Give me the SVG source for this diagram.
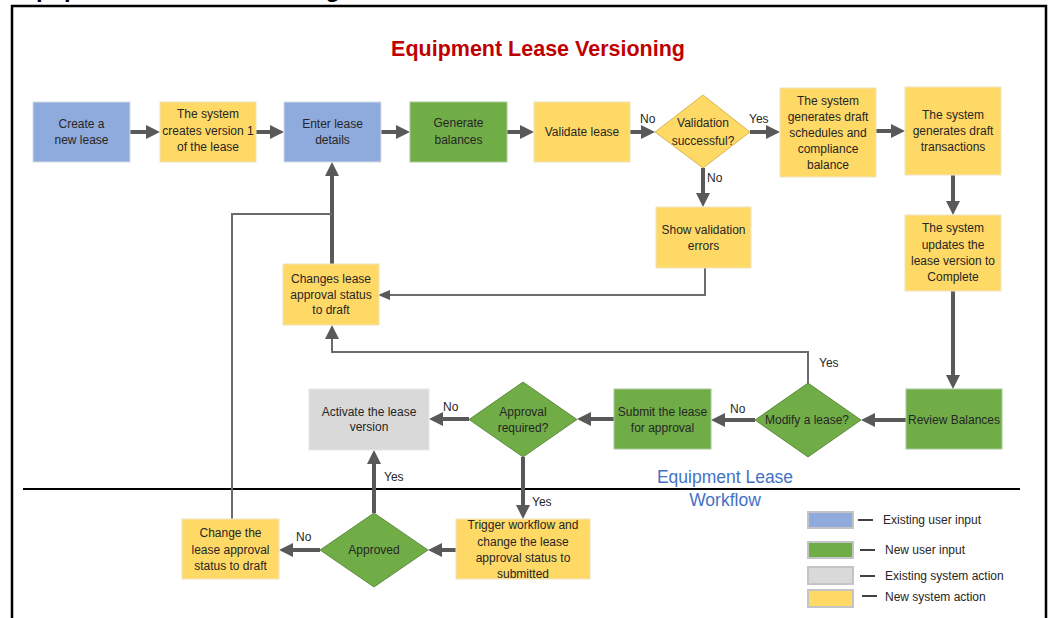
<svg xmlns="http://www.w3.org/2000/svg" width="1049" height="618" viewBox="0 0 1049 618">
  <style>
    text { font-family: "Liberation Sans", Arial, sans-serif; font-size: 12px; fill: #262626; }
    .c { text-anchor: middle; }
    .title { font-size: 21.5px; font-weight: bold; fill: #C00000; text-anchor: middle; }
    .lane { font-size: 17.5px; fill: #4472C4; text-anchor: middle; }
    .blue { fill: #8FAADC; stroke: #D6DCE5; stroke-width: 1; }
    .yellow { fill: #FFD966; stroke: #EDE3C0; stroke-width: 1; }
    .green { fill: #70AD47; stroke: #A9C99A; stroke-width: 1; }
    .gray { fill: #D9D9D9; stroke: #E6E6E6; stroke-width: 1; }
    .dy { fill: #FFD966; stroke: #C9A93A; stroke-width: 0.8; }
    .dg { fill: #70AD47; stroke: #4E7D30; stroke-width: 0.8; }
    .thick { fill: none; stroke: #595959; stroke-width: 4; }
    .thin { fill: none; stroke: #6B6B6B; stroke-width: 2; }
    .sw { stroke: #C4C4C4; stroke-width: 2; }
    .dash { stroke: #000; stroke-width: 1.5; }
  </style>
  <defs>
    <marker id="ah" markerUnits="userSpaceOnUse" markerWidth="14" markerHeight="14" refX="6" refY="7" orient="auto">
      <path d="M0,0 L14,7 L0,14 z" fill="#595959"/>
    </marker>
    <marker id="ahs" markerUnits="userSpaceOnUse" markerWidth="12" markerHeight="10" refX="4" refY="5" orient="auto">
      <path d="M0,0 L12,5 L0,10 z" fill="#595959"/>
    </marker>
  </defs>

  <rect width="1049" height="618" fill="#FFFFFF"/>

  <!-- heading above the frame, cut by the top edge -->
  <text x="12" y="-3" style="font-size:24px;font-weight:bold;fill:#000">Equipment Lease Versioning</text>

  <!-- outer frame -->
  <path d="M12,640 V6 H1046 V640" fill="none" stroke="#000" stroke-width="2.5"/>
  <!-- lane divider -->
  <line x1="23" y1="489" x2="1020" y2="489" stroke="#000" stroke-width="2"/>

  <text class="title" x="538" y="56">Equipment Lease Versioning</text>
  <text class="lane" x="725" y="483">Equipment Lease</text>
  <text class="lane" x="725" y="506">Workflow</text>

  <!-- connectors -->
  <g id="connectors">
    <path class="thick" d="M130,132 H152" marker-end="url(#ah)"/>
    <path class="thick" d="M256,132 H276" marker-end="url(#ah)"/>
    <path class="thick" d="M381,132 H402" marker-end="url(#ah)"/>
    <path class="thick" d="M507,132 H526" marker-end="url(#ah)"/>
    <path class="thick" d="M630,132 H647" marker-end="url(#ah)"/>
    <path class="thick" d="M750,132 H772" marker-end="url(#ah)"/>
    <path class="thick" d="M876,131 H897" marker-end="url(#ah)"/>
    <path class="thick" d="M953,175 V207" marker-end="url(#ah)"/>
    <path class="thick" d="M953,291 V381" marker-end="url(#ah)"/>
    <path class="thick" d="M906,420 H869" marker-end="url(#ah)"/>
    <path class="thick" d="M755,420 H719" marker-end="url(#ah)"/>
    <path class="thick" d="M614,419 H585" marker-end="url(#ah)"/>
    <path class="thick" d="M469,419 H437" marker-end="url(#ah)"/>
    <path class="thick" d="M523,457 V511" marker-end="url(#ah)"/>
    <path class="thick" d="M456,550 H436" marker-end="url(#ah)"/>
    <path class="thick" d="M320,550 H287" marker-end="url(#ah)"/>
    <path class="thick" d="M374,513 V458" marker-end="url(#ah)"/>
    <path class="thick" d="M703,168 V199" marker-end="url(#ah)"/>
    <path class="thick" d="M332,264 V170" marker-end="url(#ah)"/>
    <path class="thin" d="M705,268 V295 H386" marker-end="url(#ahs)"/>
    <path class="thin" d="M808,383 V352 H332 V333" marker-end="url(#ah)"/>
    <path class="thin" d="M232,519 V214 H332"/>

    <text x="640" y="123">No</text>
    <text x="749" y="123">Yes</text>
    <text x="707" y="182">No</text>
    <text x="819" y="367">Yes</text>
    <text x="730" y="413">No</text>
    <text x="443" y="411">No</text>
    <text x="384" y="481">Yes</text>
    <text x="532" y="506">Yes</text>
    <text x="296" y="541">No</text>
  </g>

  <!-- top row -->
  <g id="create-lease">
    <rect class="blue" x="33" y="102" width="97" height="60"/>
    <text class="c" x="81.5" y="128">Create a</text>
    <text class="c" x="81.5" y="144">new lease</text>
  </g>
  <g id="create-version">
    <rect class="yellow" x="160" y="102" width="96" height="60"/>
    <text class="c" x="208" y="118">The system</text>
    <text class="c" x="208" y="135">creates version 1</text>
    <text class="c" x="208" y="151">of the lease</text>
  </g>
  <g id="enter-details">
    <rect class="blue" x="284" y="102" width="97" height="60"/>
    <text class="c" x="332.5" y="128">Enter lease</text>
    <text class="c" x="332.5" y="144">details</text>
  </g>
  <g id="generate-balances">
    <rect class="green" x="410" y="102" width="97" height="60"/>
    <text class="c" x="458.5" y="127">Generate</text>
    <text class="c" x="458.5" y="144">balances</text>
  </g>
  <g id="validate-lease">
    <rect class="yellow" x="534" y="102" width="96" height="60"/>
    <text class="c" x="582" y="136">Validate lease</text>
  </g>
  <g id="validation-successful">
    <polygon class="dy" points="703,95 750,132 703,168 655,132"/>
    <text class="c" x="703" y="127">Validation</text>
    <text class="c" x="703" y="145">successful?</text>
  </g>
  <g id="draft-schedules">
    <rect class="yellow" x="780" y="88" width="96" height="89"/>
    <text class="c" x="828" y="105">The system</text>
    <text class="c" x="828" y="121">generates draft</text>
    <text class="c" x="828" y="137">schedules and</text>
    <text class="c" x="828" y="153">compliance</text>
    <text class="c" x="828" y="169">balance</text>
  </g>
  <g id="draft-transactions">
    <rect class="yellow" x="905" y="87" width="96" height="88"/>
    <text class="c" x="953" y="119">The system</text>
    <text class="c" x="953" y="135">generates draft</text>
    <text class="c" x="953" y="151">transactions</text>
  </g>
  <g id="version-complete">
    <rect class="yellow" x="905" y="215" width="96" height="76"/>
    <text class="c" x="953" y="232">The system</text>
    <text class="c" x="953" y="249">updates the</text>
    <text class="c" x="953" y="265">lease version to</text>
    <text class="c" x="953" y="281">Complete</text>
  </g>
  <g id="validation-errors">
    <rect class="yellow" x="656" y="207" width="95" height="61"/>
    <text class="c" x="703.5" y="234">Show validation</text>
    <text class="c" x="703.5" y="250">errors</text>
  </g>
  <g id="status-draft">
    <rect class="yellow" x="283" y="264" width="96" height="61"/>
    <text class="c" x="331" y="283">Changes lease</text>
    <text class="c" x="331" y="299">approval status</text>
    <text class="c" x="331" y="314">to draft</text>
  </g>

  <!-- approval row -->
  <g id="review-balances">
    <rect class="green" x="906" y="389" width="96" height="60"/>
    <text class="c" x="954" y="424">Review Balances</text>
  </g>
  <g id="modify-lease">
    <polygon class="dg" points="808,383 861,420 808,457 755,420"/>
    <text class="c" x="807" y="424">Modify a lease?</text>
  </g>
  <g id="submit-approval">
    <rect class="green" x="614" y="389" width="97" height="60"/>
    <text class="c" x="662.5" y="416">Submit the lease</text>
    <text class="c" x="662.5" y="432">for approval</text>
  </g>
  <g id="approval-required">
    <polygon class="dg" points="523,382 577,419.5 523,457 469,419.5"/>
    <text class="c" x="523" y="416">Approval</text>
    <text class="c" x="523" y="432">required?</text>
  </g>
  <g id="activate-version">
    <rect class="gray" x="309" y="389" width="120" height="61"/>
    <text class="c" x="369" y="416">Activate the lease</text>
    <text class="c" x="369" y="431">version</text>
  </g>

  <!-- workflow lane -->
  <g id="trigger-workflow">
    <rect class="yellow" x="456" y="519" width="134" height="60"/>
    <text class="c" x="523" y="529">Trigger workflow and</text>
    <text class="c" x="523" y="546">change the lease</text>
    <text class="c" x="523" y="562">approval status to</text>
    <text class="c" x="523" y="578">submitted</text>
  </g>
  <g id="approved">
    <polygon class="dg" points="374,513 428,550 374,587 320,550"/>
    <text class="c" x="374" y="554">Approved</text>
  </g>
  <g id="change-to-draft">
    <rect class="yellow" x="182" y="519" width="97" height="60"/>
    <text class="c" x="230.5" y="537">Change the</text>
    <text class="c" x="230.5" y="554">lease approval</text>
    <text class="c" x="230.5" y="570">status to draft</text>
  </g>

  <!-- legend -->
  <g id="legend">
    <rect class="sw" x="808" y="512" width="45" height="16" fill="#8FAADC"/>
    <line class="dash" x1="858" y1="520" x2="873" y2="520"/>
    <text x="883" y="524">Existing user input</text>
    <rect class="sw" x="808" y="542" width="45" height="16" fill="#70AD47"/>
    <line class="dash" x1="860" y1="550" x2="875" y2="550"/>
    <text x="885" y="554">New user input</text>
    <rect class="sw" x="808" y="567" width="45" height="17" fill="#D9D9D9"/>
    <line class="dash" x1="860" y1="576" x2="875" y2="576"/>
    <text x="885" y="580">Existing system action</text>
    <rect class="sw" x="808" y="590" width="45" height="17" fill="#FFD966"/>
    <line class="dash" x1="862" y1="596" x2="877" y2="596"/>
    <text x="885" y="601">New system action</text>
  </g>
</svg>
